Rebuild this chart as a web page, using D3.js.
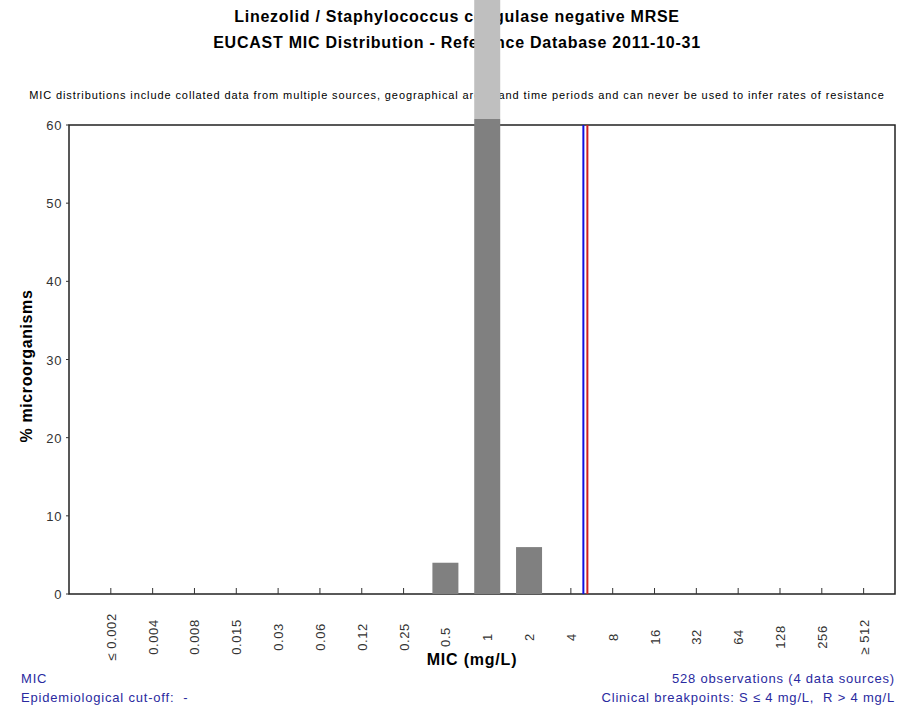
<!DOCTYPE html>
<html>
<head>
<meta charset="utf-8">
<script src="https://cdn.jsdelivr.net/npm/d3@7"></script>
<style>
  body { margin: 0; background: #fff; }
  text { font-family: "Liberation Sans", Arial, sans-serif; }
  .foot { white-space: pre; }
</style>
</head>
<body>
<div id="chart"></div>
<script>
// MIC categories (mg/L) and % of isolates
const micLabels = ['≤ 0.002', '0.004', '0.008', '0.015', '0.03', '0.06', '0.12', '0.25', '0.5',
  '1', '2', '4', '8', '16', '32', '64', '128', '256', '≥ 512']
const percents = [0, 0, 0, 0, 0, 0, 0, 0, 4.0, 90.0, 6.0, 0, 0, 0, 0, 0, 0, 0, 0]
const yTicks = [0, 10, 20, 30, 40, 50, 60]

const titleLines = [
  'Linezolid / Staphylococcus coagulase negative MRSE',
  'EUCAST MIC Distribution - Reference Database 2011-10-31'
]
const note = 'MIC distributions include collated data from multiple sources, geographical areas and time periods and can never be used to infer rates of resistance'
const footLeft = ['MIC', 'Epidemiological cut-off:  -']
const footRight = ['528 observations (4 data sources)', 'Clinical breakpoints: S ≤ 4 mg/L,  R > 4 mg/L']
const breakpointS = '4'
const breakpointR = '4'

const width = 910
const height = 707
const plot = { left: 69, right: 895, top: 125, bottom: 594 }

const svg = d3.select('#chart')
  .append('svg')
  .attr('width', width)
  .attr('height', height)

// scales
const x = d3.scaleLinear()
  .domain([-1, micLabels.length - 0.25])
  .range([plot.left, plot.right])
const y = d3.scaleLinear()
  .domain([0, 60])
  .range([plot.bottom, plot.top])

// frame (drawn first so the tall bar covers its top edge)
svg.append('rect')
  .attr('x', plot.left)
  .attr('y', plot.top)
  .attr('width', plot.right - plot.left)
  .attr('height', plot.bottom - plot.top)
  .attr('fill', 'none')
  .attr('stroke', '#222')
  .attr('stroke-width', 1.5)

// titles
svg.selectAll('.title')
  .data(titleLines)
  .join('text')
  .attr('class', 'title')
  .attr('x', 457)
  .attr('y', (d, i) => 22 + i * 26)
  .attr('text-anchor', 'middle')
  .attr('font-size', 16)
  .attr('letter-spacing', 0.75)
  .attr('font-weight', 'bold')
  .attr('fill', '#000')
  .text(d => d)

svg.append('text')
  .attr('x', 457)
  .attr('y', 99)
  .attr('text-anchor', 'middle')
  .attr('font-size', 11)
  .attr('letter-spacing', 0.9)
  .attr('fill', '#000')
  .text(note)

// y axis ticks + labels
const yAxis = svg.append('g')
yAxis.selectAll('line')
  .data(yTicks)
  .join('line')
  .attr('x1', plot.left - 3)
  .attr('x2', plot.left)
  .attr('y1', d => y(d))
  .attr('y2', d => y(d))
  .attr('stroke', '#333')
yAxis.selectAll('text')
  .data(yTicks)
  .join('text')
  .attr('x', plot.left - 7)
  .attr('y', d => y(d) + 5)
  .attr('text-anchor', 'end')
  .attr('font-size', 13)
  .attr('letter-spacing', 0.6)
  .attr('fill', '#333')
  .text(d => d)

svg.append('text')
  .attr('transform', 'translate(32,366) rotate(-90)')
  .attr('text-anchor', 'middle')
  .attr('font-size', 16)
  .attr('letter-spacing', 0.6)
  .attr('font-weight', 'bold')
  .text('% microorganisms')

// x ticks (inside) + rotated labels
const xAxis = svg.append('g')
xAxis.selectAll('line')
  .data(micLabels)
  .join('line')
  .attr('x1', (d, i) => x(i))
  .attr('x2', (d, i) => x(i))
  .attr('y1', plot.bottom - 6)
  .attr('y2', plot.bottom)
  .attr('stroke', '#333')
xAxis.selectAll('text')
  .data(micLabels)
  .join('text')
  .attr('transform', (d, i) => `translate(${x(i) + 5},637) rotate(-90)`)
  .attr('text-anchor', 'middle')
  .attr('font-size', 13)
  .attr('letter-spacing', 0.6)
  .attr('fill', '#333')
  .text(d => d)

svg.append('text')
  .attr('x', 472)
  .attr('y', 665)
  .attr('text-anchor', 'middle')
  .attr('font-size', 16)
  .attr('letter-spacing', 0.8)
  .attr('font-weight', 'bold')
  .text('MIC (mg/L)')

// footer text
svg.selectAll('.foot-left')
  .data(footLeft)
  .join('text')
  .attr('class', 'foot foot-left')
  .attr('x', 21)
  .attr('y', (d, i) => 683 + i * 19)
  .attr('font-size', 13)
  .attr('letter-spacing', 0.8)
  .attr('fill', '#2a2aa0')
  .text(d => d)
svg.selectAll('.foot-right')
  .data(footRight)
  .join('text')
  .attr('class', 'foot foot-right')
  .attr('x', 895)
  .attr('y', (d, i) => 683 + i * 19)
  .attr('text-anchor', 'end')
  .attr('font-size', 13)
  .attr('letter-spacing', 0.8)
  .attr('fill', '#2a2aa0')
  .text(d => d)

// bars: dark part clipped just above the frame, overflow drawn light
const barW = 26
const capY = y(60) - 6
const bars = svg.append('g')
bars.selectAll('.over')
  .data(percents.map((v, i) => ({ v, i })).filter(d => y(d.v) < capY))
  .join('rect')
  .attr('class', 'over')
  .attr('x', d => x(d.i) - barW / 2)
  .attr('y', d => Math.max(0, y(d.v)))
  .attr('width', barW)
  .attr('height', d => capY - Math.max(0, y(d.v)))
  .attr('fill', '#bfbfbf')
bars.selectAll('.bar')
  .data(percents.map((v, i) => ({ v, i })).filter(d => d.v > 0))
  .join('rect')
  .attr('class', 'bar')
  .attr('x', d => x(d.i) - barW / 2)
  .attr('y', d => Math.max(capY, y(d.v)))
  .attr('width', barW)
  .attr('height', d => plot.bottom - Math.max(capY, y(d.v)))
  .attr('fill', '#808080')

// breakpoint lines (S blue, R red)
const sIdx = micLabels.indexOf(breakpointS)
const rIdx = micLabels.indexOf(breakpointR)
svg.append('line')
  .attr('x1', x(sIdx) + 12.5).attr('x2', x(sIdx) + 12.5)
  .attr('y1', plot.top).attr('y2', plot.bottom)
  .attr('stroke', '#1010e0').attr('stroke-width', 2)
svg.append('line')
  .attr('x1', x(rIdx) + 16.5).attr('x2', x(rIdx) + 16.5)
  .attr('y1', plot.top).attr('y2', plot.bottom)
  .attr('stroke', '#d02020').attr('stroke-width', 2)
</script>
</body>
</html>
